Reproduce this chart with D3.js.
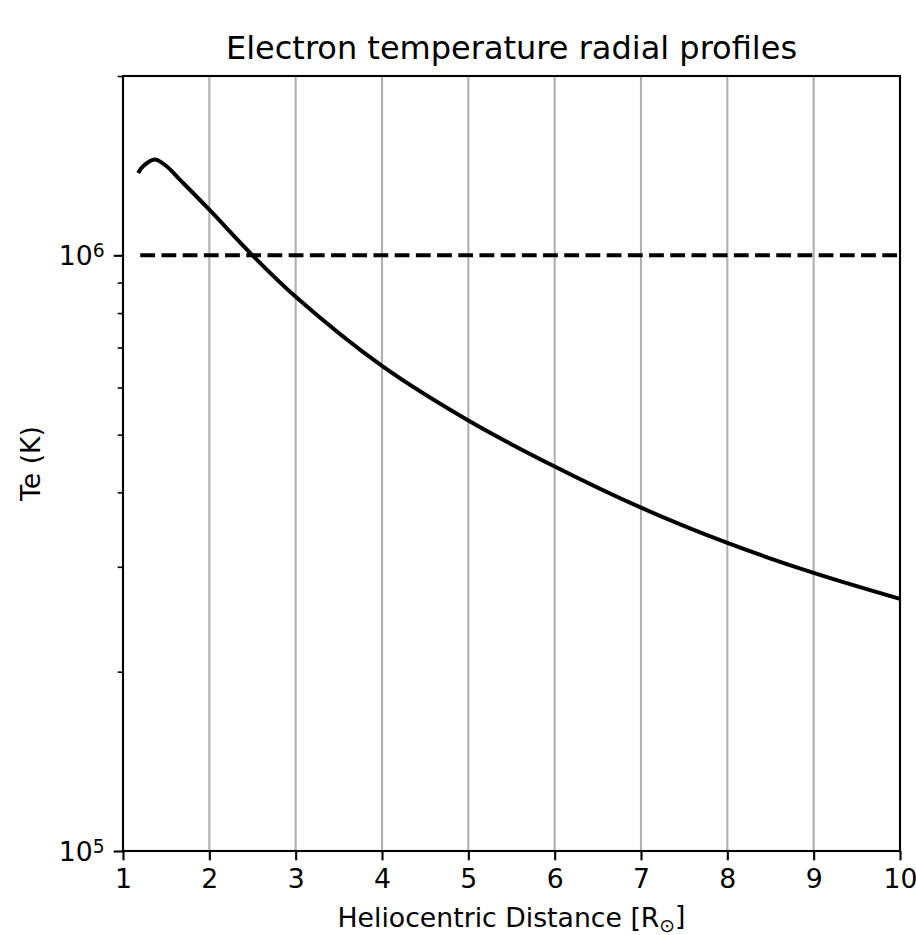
<!DOCTYPE html>
<html>
<head>
<meta charset="utf-8">
<script src="https://cdn.jsdelivr.net/npm/d3@7"></script>
<style>
  body { margin: 0; background: #fff; }
  text { font-family: "DejaVu Sans", sans-serif; fill: #000; }
</style>
</head>
<body>
<svg id="chart" width="916" height="935"></svg>
<script>

// Radial profile (distance in solar radii, Te in K).
const distance = [1.175, 1.233, 1.368, 1.504, 1.658, 2, 2.5, 3, 4, 5, 6, 7, 8, 9, 10];
const temperature = [1.375e6, 1.411e6, 1.448e6, 1.411e6, 1.340e6, 1.193e6, 1.0e6,
  8.52e5, 6.52e5, 5.28e5, 4.42e5, 3.77e5, 3.29e5, 2.93e5, 2.65e5];

// Reference level (dashed).
const refDistance = [1.2, 10];
const refTemperature = [1e6, 1e6];

const xTicks = [1, 2, 3, 4, 5, 6, 7, 8, 9, 10];
const yMajor = [1e5, 1e6];
const yMinor = [2e5, 3e5, 4e5, 5e5, 6e5, 7e5, 8e5, 9e5, 2e6];

const margin = { top: 76, right: 16, bottom: 84, left: 123 };
const width = 916, height = 935;

// matplotlib at 192 dpi: 10pt labels, 12pt title
const fontSize = 26.7, titleSize = 32;
const spineW = 2.1, tickLen = 9.3, minorLen = 5.3;

const svg = d3.select('#chart');

const x = d3.scaleLinear()
  .domain([1, 10])
  .range([margin.left, width - margin.right]);

const y = d3.scaleLog()
  .domain([1e5, 2e6])
  .range([height - margin.bottom, margin.top]);

// Grid lines on x.
svg.append('g')
  .selectAll('line')
  .data(xTicks)
  .join('line')
  .attr('x1', d => x(d)).attr('x2', d => x(d))
  .attr('y1', y.range()[0]).attr('y2', y.range()[1])
  .attr('stroke', '#b0b0b0')
  .attr('stroke-width', spineW);

// Dashed reference line.
svg.append('path')
  .attr('d', d3.line().x(d => x(d[0])).y(d => y(d[1]))(d3.zip(refDistance, refTemperature)))
  .attr('fill', 'none')
  .attr('stroke', '#000')
  .attr('stroke-width', 4)
  .attr('stroke-dasharray', '14.8,6.4');

// Temperature profile.
svg.append('path')
  .attr('d', d3.line().x(d => x(d[0])).y(d => y(d[1])).curve(d3.curveCatmullRom.alpha(0.5))(d3.zip(distance, temperature)))
  .attr('fill', 'none')
  .attr('stroke', '#000')
  .attr('stroke-width', 4)
  .attr('stroke-linejoin', 'round');

// Axes.
const xAxis = svg.append('g')
  .attr('transform', `translate(0,${y.range()[0]})`)
  .call(d3.axisBottom(x).tickValues(xTicks).tickSize(tickLen).tickPadding(9).tickFormat(d3.format('d')));

const yAxis = svg.append('g')
  .attr('transform', `translate(${margin.left},0)`)
  .call(d3.axisLeft(y).tickValues(yMajor).tickSize(tickLen).tickFormat(''));

svg.append('g')
  .attr('transform', `translate(${margin.left},0)`)
  .call(d3.axisLeft(y).tickValues(yMinor).tickSize(minorLen).tickFormat(''))
  .call(g => g.select('.domain').remove())
  .call(g => g.selectAll('.tick line').attr('stroke-width', spineW * 0.75));

[xAxis, yAxis].forEach(g => {
  g.selectAll('.tick line').attr('stroke-width', spineW);
  g.select('.domain').remove();
});
xAxis.selectAll('text').attr('font-size', fontSize).attr('font-family', 'DejaVu Sans');

// 10^n labels.
yAxis.selectAll('.tick').each(function(d) {
  const t = d3.select(this).append('text')
    .attr('x', -tickLen - 9).attr('dy', '0.36em')
    .attr('text-anchor', 'end')
    .attr('font-size', fontSize)
    .attr('fill', '#000');
  t.append('tspan').text('10');
  t.append('tspan').attr('dy', '-0.45em').attr('font-size', fontSize * 0.7).text(Math.round(Math.log10(d)));
});

// Frame.
svg.append('rect')
  .attr('x', margin.left).attr('y', margin.top)
  .attr('width', x.range()[1] - margin.left)
  .attr('height', y.range()[0] - margin.top)
  .attr('fill', 'none')
  .attr('stroke', '#000')
  .attr('stroke-width', spineW);

// Title and labels.
svg.append('text')
  .attr('x', (x.range()[0] + x.range()[1]) / 2).attr('y', 59)
  .attr('text-anchor', 'middle')
  .attr('font-size', titleSize)
  .text('Electron temperature radial profiles');

const xLabel = svg.append('text')
  .attr('x', (x.range()[0] + x.range()[1]) / 2).attr('y', 927)
  .attr('text-anchor', 'middle')
  .attr('font-size', fontSize);
xLabel.append('tspan').text('Heliocentric Distance [R');
xLabel.append('tspan').attr('font-size', fontSize * 0.7).attr('dy', '0.25em').text('\u2299');
xLabel.append('tspan').attr('dy', '-0.25em').text(']');

svg.append('text')
  .attr('transform', `translate(40,${(y.range()[0] + y.range()[1]) / 2}) rotate(-90)`)
  .attr('text-anchor', 'middle')
  .attr('font-size', fontSize)
  .text('Te (K)');

</script>
</body>
</html>
